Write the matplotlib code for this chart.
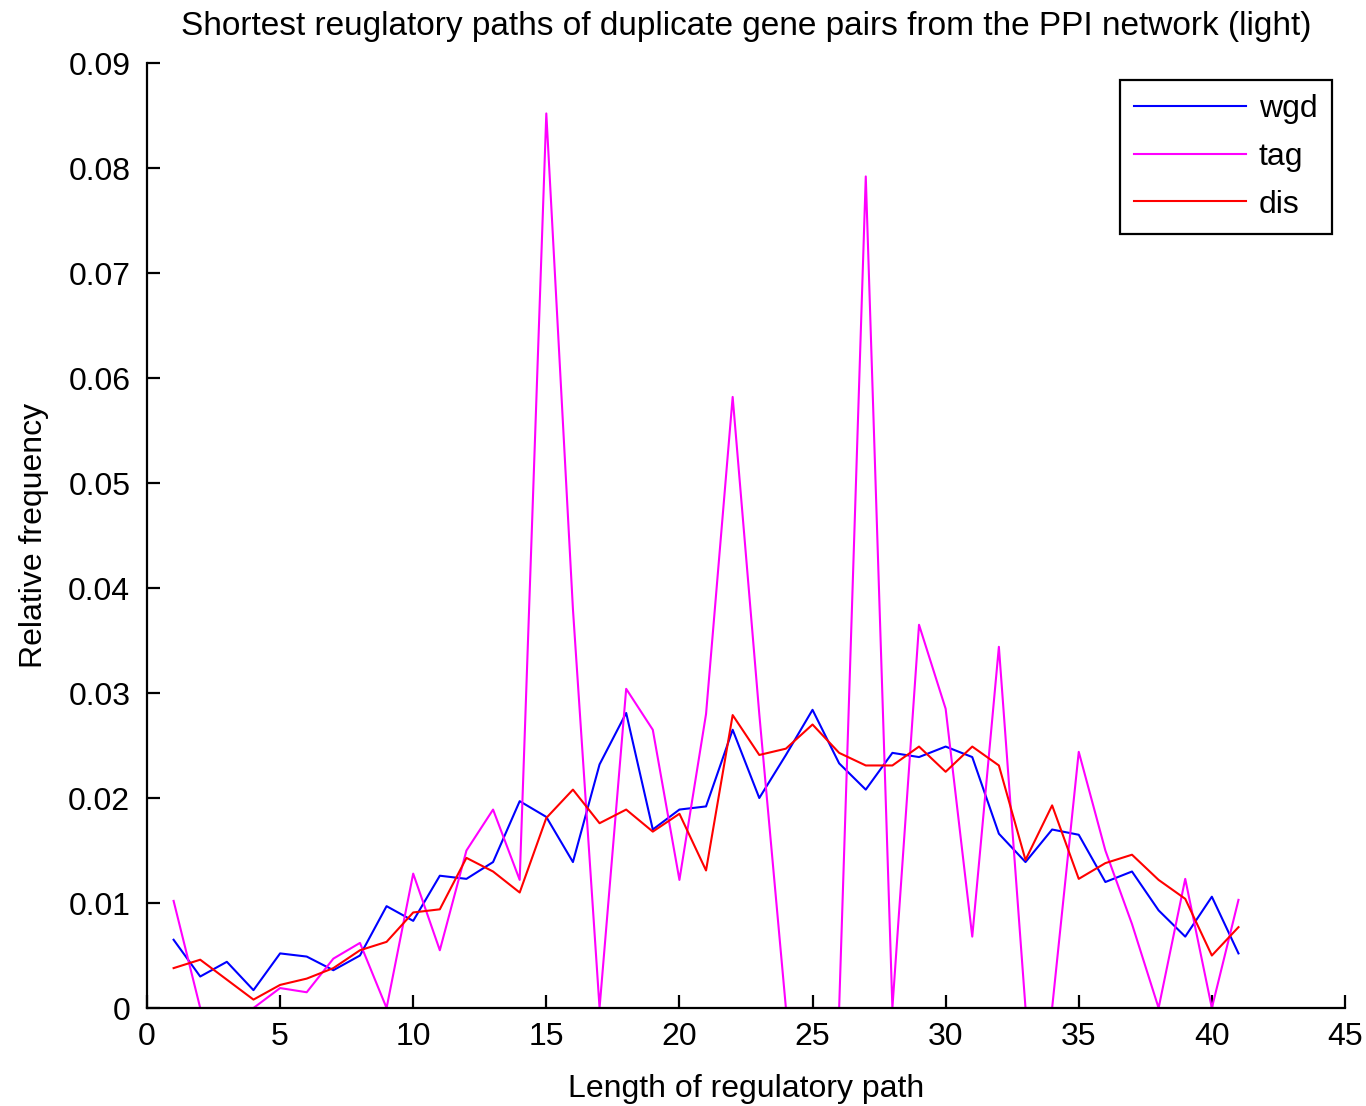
import matplotlib
matplotlib.use("Agg")
import matplotlib.pyplot as plt

plt.rcParams["font.family"] = ["Liberation Sans", "DejaVu Sans"]

# path lengths 1..41
lengths = list(range(1, 42))

wgd = [0.0065, 0.0030, 0.0044, 0.0017, 0.0052, 0.0049, 0.0036, 0.0050, 0.0097, 0.0083,
       0.0126, 0.0123, 0.0139, 0.0197, 0.0182, 0.0139, 0.0232, 0.0281, 0.0170, 0.0189,
       0.0192, 0.0265, 0.0200, 0.0241, 0.0284, 0.0233, 0.0208, 0.0243, 0.0239, 0.0249,
       0.0239, 0.0166, 0.0139, 0.0170, 0.0165, 0.0120, 0.0130, 0.0093, 0.0068, 0.0106,
       0.0052]

tag = [0.0102, 0.0, 0.0, 0.0, 0.0019, 0.0015, 0.0047, 0.0062, 0.0, 0.0128,
       0.0055, 0.0150, 0.0189, 0.0122, 0.0852, 0.0380, 0.0, 0.0304, 0.0265, 0.0122,
       0.0280, 0.0582, 0.0280, 0.0, 0.0, 0.0, 0.0792, 0.0, 0.0365, 0.0285,
       0.0068, 0.0344, 0.0, 0.0, 0.0244, 0.0150, 0.0080, 0.0, 0.0123, 0.0,
       0.0103]

dis = [0.0038, 0.0046, 0.0027, 0.0008, 0.0022, 0.0028, 0.0038, 0.0055, 0.0063, 0.0091,
       0.0094, 0.0143, 0.0130, 0.0110, 0.0181, 0.0208, 0.0176, 0.0189, 0.0168, 0.0185,
       0.0131, 0.0279, 0.0241, 0.0247, 0.0270, 0.0243, 0.0231, 0.0231, 0.0249, 0.0225,
       0.0249, 0.0231, 0.0141, 0.0193, 0.0123, 0.0138, 0.0146, 0.0122, 0.0104, 0.0050,
       0.0077]

fig = plt.figure(figsize=(13.66, 11.06), dpi=100)
ax = fig.add_axes([0.1076, 0.0886, 0.877, 0.8544])

ax.plot(lengths, wgd, color="#0000ff", lw=1.5, label="wgd")
ax.plot(lengths, tag, color="#ff00ff", lw=1.5, label="tag")
ax.plot(lengths, dis, color="#ff0000", lw=1.5, label="dis")

ax.set_xlim(0, 45)
ax.set_ylim(0, 0.09)
ax.set_xticks(range(0, 46, 5))
ax.set_yticks([i / 100 for i in range(10)])
ax.set_yticklabels(["0"] + ["%.2f" % (i / 100) for i in range(1, 10)])

ax.spines["top"].set_visible(False)
ax.spines["right"].set_visible(False)
ax.spines["left"].set_linewidth(1.6)
ax.spines["bottom"].set_linewidth(1.6)
ax.tick_params(direction="in", length=9.5, width=1.6, labelsize=23)
ax.tick_params(axis="y", pad=12)
ax.tick_params(axis="x", pad=10)

ax.set_title("Shortest reuglatory paths of duplicate gene pairs from the PPI network (light)",
             fontsize=24, pad=20)
ax.set_xlabel("Length of regulatory path", fontsize=23, labelpad=16)
ax.set_ylabel("Relative frequency", fontsize=23, labelpad=14)

leg = ax.legend(loc="upper right", bbox_to_anchor=(0.989, 0.982), borderaxespad=0,
                fontsize=23, handlelength=3.5, fancybox=False, framealpha=1,
                borderpad=0.45, labelspacing=0.55, handletextpad=0.4)
leg.get_frame().set_edgecolor("black")
leg.get_frame().set_linewidth(1.6)

fig.savefig("out.png", dpi=100)
